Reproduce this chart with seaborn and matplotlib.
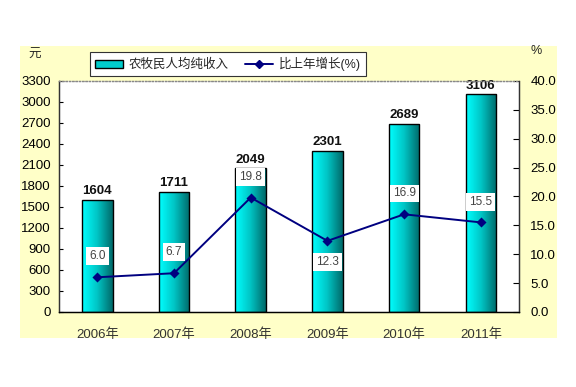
import numpy as np
import pandas as pd
import seaborn as sns
import matplotlib.pyplot as plt
from matplotlib.patches import Rectangle, Patch
from matplotlib.lines import Line2D
from matplotlib.colors import LinearSegmentedColormap

years = ['2006年', '2007年', '2008年', '2009年', '2010年', '2011年']
income = [1604, 1711, 2049, 2301, 2689, 3106]
growth = [6.0, 6.7, 19.8, 12.3, 16.9, 15.5]
left_ticks = list(range(0, 3301, 300))
right_ticks = [0, 5, 10, 15, 20, 25, 30, 35, 40]

data = pd.DataFrame({'year': years, 'income': income, 'growth': growth})

sns.set_style('white')
plt.rcParams['font.family'] = ['Liberation Sans', 'Noto Sans CJK SC', 'DejaVu Sans']

fig = plt.figure(figsize=(5.76, 3.87), dpi=100)
fig.patches.append(Rectangle((0.035, 0.127), 0.932, 0.754, transform=fig.transFigure,
                             facecolor='#FFFFC8', edgecolor='none', zorder=-10))

ax = fig.add_axes([0.1024, 0.194, 0.799, 0.597])
ax.set_facecolor('white')
sns.barplot(data=data, x='year', y='income', width=0.4, ax=ax,
            color='#00CCCC', edgecolor='black', linewidth=1.0, zorder=2)

# gradient fill on bars
cmap = LinearSegmentedColormap.from_list('tealgrad', ['#00FFFF', '#00C4C4', '#006A6A'])
grad = np.linspace(0, 1, 64).reshape(1, -1)
for p in ax.patches:
    x0, y0 = p.get_x(), p.get_y()
    w, h = p.get_width(), p.get_height()
    im = ax.imshow(grad, extent=[x0, x0 + w, y0, y0 + h], aspect='auto', cmap=cmap,
                   zorder=2.5, interpolation='bilinear')
    im.set_clip_path(p)
    p.set_facecolor('none')
    p.set_zorder(3)

ax.bar_label(ax.containers[0], labels=[str(v) for v in income], padding=2,
             fontsize=9.5, fontweight='bold', color='#111111')

ax.set_xlim(-0.5, 5.5)
ax.set_ylim(0, 3300)
ax.set_yticks(left_ticks)
ax.set_xlabel('')
ax.set_ylabel('')
ax.tick_params(axis='y', labelsize=9.5, direction='in', length=3, pad=6, colors='black')
ax.tick_params(axis='x', labelsize=9.5, length=0, pad=12, labelcolor='#333333')
ax.set_xticks([0.5, 1.5, 2.5, 3.5, 4.5], minor=True)
ax.tick_params(axis='x', which='minor', direction='in', length=3, color='#555555')

ax2 = ax.twinx()
sns.pointplot(data=data, x='year', y='growth', ax=ax2, color='#000080',
              markers='D', markersize=4.5, linewidth=1.4, zorder=5)
ax2.set_xlim(-0.5, 5.5)
ax2.set_ylim(0, 40)
ax2.set_yticks(right_ticks)
ax2.set_yticklabels([f'{v:.1f}' for v in right_ticks])
ax2.set_ylabel('')
ax2.tick_params(axis='y', labelsize=9.5, direction='in', length=4, pad=8, colors='black')

for i, g in enumerate(growth):
    off = -15 if years[i] == '2009年' else 15
    ax2.annotate(f'{g:.1f}', (i, g), xytext=(0, off), textcoords='offset points',
                 ha='center', va='center', fontsize=8.5, color='#444444',
                 bbox=dict(boxstyle='square,pad=0.25', facecolor='white', edgecolor='none'),
                 zorder=6)

for a in (ax, ax2):
    a.spines['top'].set_color('#888888')
    a.spines['top'].set_linestyle(':')
    a.spines['left'].set_color('#333333')
    a.spines['right'].set_color('#333333')
    a.spines['bottom'].set_color('black')
    for s in a.spines.values():
        s.set_linewidth(0.9)

fig.text(0.061, 0.858, '元', fontsize=9, ha='center', va='center')
fig.text(0.931, 0.868, '%', fontsize=9, ha='center', va='center')

handles = [Patch(facecolor='#00CCCC', edgecolor='black'),
           Line2D([0], [0], color='#000080', marker='D', markersize=4, linewidth=1.4)]
leg = fig.legend(handles, ['农牧民人均纯收入', '比上年增长(%)'], ncol=2,
                 loc='center', bbox_to_anchor=(0.396, 0.835), fontsize=9,
                 frameon=True, fancybox=False, edgecolor='#333333',
                 handlelength=2.2, handleheight=0.6, columnspacing=1.3,
                 handletextpad=0.5, borderpad=0.4, framealpha=1)
leg.get_frame().set_linewidth(0.8)

fig.savefig('out.png', dpi=100)
